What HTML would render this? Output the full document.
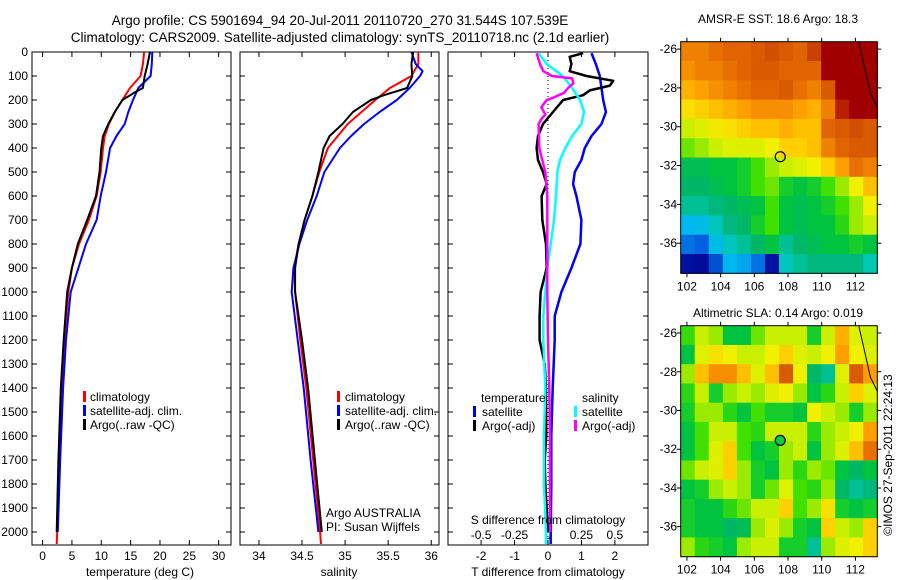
<!DOCTYPE html>
<html><head><meta charset="utf-8"><style>
html,body{margin:0;padding:0;background:#fff;}
svg{display:block;font-family:"Liberation Sans",sans-serif;}
text{font-size:12px;fill:#000;}
</style></head><body>
<svg id="fig" width="900" height="580" viewBox="0 0 900 580" xmlns="http://www.w3.org/2000/svg">
<rect width="900" height="580" fill="#fff"/>
<text x="340" y="25" text-anchor="middle" style="font-size:13.5px">Argo profile: CS 5901694_94 20-Jul-2011 20110720_270 31.544S 107.539E</text>
<text x="340" y="42" text-anchor="middle" style="font-size:13.5px">Climatology: CARS2009. Satellite-adjusted climatology: synTS_20110718.nc (2.1d earlier)</text>
<g id="p1"></g>
<g id="p2"></g>
<g id="p3"></g>
<g id="m1"></g>
<g id="m2"></g>
<text x="140" y="576" text-anchor="middle">temperature (deg C)</text>
<text x="339" y="576" text-anchor="middle">salinity</text>
<text x="548" y="576" text-anchor="middle">T difference from climatology</text>
<text x="548" y="524" text-anchor="middle">S difference from climatology</text>
<text x="326" y="517">Argo AUSTRALIA</text>
<text x="326" y="531">PI: Susan Wijffels</text>
<text x="778" y="23" text-anchor="middle">AMSR-E SST: 18.6 Argo: 18.3</text>
<text x="778" y="317" text-anchor="middle">Altimetric SLA: 0.14 Argo: 0.019</text>
<text transform="translate(892,455) rotate(-90)" text-anchor="middle">©IMOS 27-Sep-2011 22:24:13</text>
</svg>
<script>
// ---------- profile data ----------
const tClimD=[0,50,100,150,200,250,300,350,400,500,600,700,800,900,1000,1200,1400,1700,2000,2050];
const tClim=[17.3,17.1,16.7,14.9,13.6,12.3,11.3,10.6,10.3,9.9,9.2,7.9,6.2,5.0,4.4,3.7,3.2,2.8,2.5,2.4];
const tSatD=[0,50,100,150,200,250,300,350,400,500,600,700,800,900,1000,1200,1400,1700,2000];
const tSat=[18.7,18.6,18.4,16.3,15.4,14.6,14.0,12.6,11.5,10.8,9.9,9.2,7.4,6.1,4.8,4.0,3.5,3.0,2.6];
const tArgoD=[0,50,100,150,170,200,250,300,350,400,500,600,700,800,900,1000,1200,1400,1700,2000];
const tArgo=[18.3,17.9,17.4,17.1,15.6,13.6,12.3,11.2,10.3,10.0,9.7,9.1,7.6,6.0,5.0,4.2,3.6,3.1,2.7,2.4];

const sClimD=[0,50,100,150,200,250,300,400,500,600,700,800,900,1000,1200,1400,1700,2000,2050];
const sClim=[35.85,35.85,35.77,35.52,35.35,35.19,35.03,34.8,34.7,34.62,34.53,34.46,34.41,34.42,34.48,34.55,34.63,34.71,34.72];
const sSatD=[0,50,80,100,150,200,250,300,350,400,500,600,700,800,900,1000,1200,1400,1700,2000];
const sSat=[35.77,35.82,35.9,35.87,35.75,35.6,35.4,35.22,35.07,34.94,34.76,34.67,34.56,34.47,34.4,34.38,34.45,34.52,34.6,34.69];
const sArgoD=[0,50,100,150,180,200,250,300,350,400,500,600,700,800,900,1000,1200,1400,1700,2000];
const sArgo=[35.79,35.77,35.78,35.72,35.45,35.3,35.09,34.97,34.82,34.75,34.69,34.62,34.53,34.46,34.42,34.42,34.5,34.57,34.65,34.73];

const dTSatD=[5,50,100,150,200,250,300,350,400,450,500,550,600,700,800,900,1000,1100,1200,1400,1600,1800,2000,2050];
const dTSat=[1.3,1.43,1.55,1.6,1.65,1.73,1.6,1.3,1.1,1.0,0.8,0.75,0.85,1.0,0.97,0.7,0.4,0.2,0.2,0.14,0.1,0.1,0.08,0.08];
const dTArgoD=[5,20,50,80,100,120,140,160,180,200,250,300,350,400,450,500,550,600,700,800,900,1000,1100,1200,1300,1400,1600,1700,1800,2000];
const dTArgo=[1.05,0.65,0.7,0.65,1.15,1.95,1.85,1.25,1.05,0.45,0.15,-0.15,-0.3,-0.34,-0.3,-0.15,-0.04,-0.19,-0.17,-0.06,-0.04,-0.22,-0.25,-0.25,-0.1,-0.06,-0.05,-0.1,-0.08,0];
const dSSatD=[5,50,100,150,200,250,300,350,400,450,500,600,700,800,900,1000,1100,1200,1400,1600,1800,2000,2050];
const dSSat=[-0.07,-0.01,0.11,0.18,0.24,0.27,0.25,0.18,0.13,0.09,0.07,0.06,0.045,0.02,-0.005,-0.02,-0.035,-0.035,-0.02,-0.03,-0.03,-0.015,-0.015];
const dSArgoD=[5,50,80,100,110,130,150,170,190,200,230,260,280,300,400,500,600,800,1000,1200,1400,1600,1800,2000];
const dSArgo=[-0.085,-0.06,-0.035,0.03,0.18,0.19,0.15,0.12,0.04,-0.01,-0.05,-0.02,-0.05,-0.07,-0.065,-0.02,-0.005,-0.005,-0.005,0.0,0.01,0.015,0.015,0.015];

const depthTicks=[0,100,200,300,400,500,600,700,800,900,1000,1100,1200,1300,1400,1500,1600,1700,1800,1900,2000];
const tTicks=[0,5,10,15,20,25,30];
const sTicks=[34,34.5,35,35.5,36];
const dTTicks=[-2,-1,0,1,2];
const dSTicks=[-0.5,-0.25,0,0.25,0.5];
const dSTickLabels=["-0.5","-0.25","0","0.25","0.5"];

// ---------- map data ----------
const mapLons=[102,104,106,108,110,112];
const mapLats=[-26,-28,-30,-32,-34,-36];
const sstGrid=[
[0.80,0.80,0.82,0.84,0.84,0.86,0.88,0.86,0.84,0.90,1.0,1.0,1.0,1.0],
[0.78,0.80,0.80,0.82,0.84,0.86,0.86,0.84,0.84,0.84,1.0,1.0,1.0,1.0],
[0.74,0.76,0.78,0.80,0.82,0.84,0.84,0.86,0.82,0.80,0.86,1.0,1.0,1.0],
[0.68,0.70,0.72,0.74,0.76,0.78,0.78,0.78,0.76,0.74,0.80,0.95,1.0,1.0],
[0.62,0.64,0.67,0.68,0.70,0.72,0.72,0.74,0.72,0.72,0.84,0.86,0.88,0.86],
[0.58,0.60,0.62,0.64,0.64,0.64,0.66,0.70,0.70,0.72,0.80,0.84,0.86,0.86],
[0.48,0.48,0.50,0.50,0.52,0.56,0.60,0.62,0.64,0.66,0.70,0.76,0.82,0.80],
[0.46,0.46,0.48,0.50,0.52,0.56,0.58,0.52,0.50,0.52,0.56,0.60,0.66,0.72],
[0.42,0.42,0.44,0.46,0.48,0.50,0.56,0.50,0.48,0.50,0.52,0.56,0.60,0.66],
[0.30,0.32,0.38,0.44,0.46,0.52,0.56,0.50,0.48,0.50,0.50,0.54,0.60,0.62],
[0.22,0.20,0.32,0.38,0.42,0.46,0.50,0.42,0.46,0.48,0.50,0.50,0.52,0.50],
[0.10,0.08,0.18,0.30,0.28,0.22,0.10,0.38,0.42,0.44,0.44,0.44,0.44,0.40]];
const slaGrid=[
[0.55,0.62,0.60,0.50,0.50,0.58,0.62,0.62,0.62,0.52,0.62,0.74,0.64,0.62],
[0.50,0.64,0.68,0.66,0.62,0.62,0.66,0.70,0.64,0.62,0.66,0.76,0.66,0.64],
[0.60,0.72,0.78,0.78,0.72,0.64,0.72,0.86,0.66,0.46,0.42,0.64,0.86,0.76],
[0.54,0.62,0.52,0.60,0.62,0.60,0.64,0.66,0.60,0.50,0.54,0.62,0.70,0.64],
[0.52,0.60,0.60,0.54,0.50,0.56,0.52,0.52,0.50,0.66,0.62,0.60,0.52,0.60],
[0.50,0.56,0.62,0.62,0.56,0.54,0.62,0.62,0.62,0.54,0.60,0.62,0.66,0.76],
[0.50,0.56,0.64,0.70,0.56,0.50,0.52,0.60,0.62,0.50,0.60,0.64,0.72,0.82],
[0.58,0.62,0.64,0.70,0.60,0.52,0.50,0.60,0.54,0.60,0.58,0.50,0.46,0.50],
[0.50,0.52,0.60,0.62,0.60,0.52,0.58,0.64,0.56,0.54,0.60,0.46,0.42,0.44],
[0.52,0.50,0.50,0.54,0.58,0.62,0.62,0.70,0.56,0.60,0.68,0.52,0.50,0.52],
[0.52,0.50,0.50,0.46,0.48,0.60,0.64,0.60,0.52,0.50,0.70,0.62,0.60,0.70],
[0.60,0.54,0.52,0.50,0.60,0.62,0.62,0.52,0.52,0.42,0.60,0.64,0.66,0.70]];
const argoLon=107.539, argoLat=-31.544;

const NS="http://www.w3.org/2000/svg";
function mk(parent,tag,attrs){const e=document.createElementNS(NS,tag);for(const k in attrs)e.setAttribute(k,attrs[k]);parent.appendChild(e);return e;}
const yD=d=>52+0.24*d;

function panel(g,x0,x1,xmin,xmax,xt){
  const y0=52,y1=545;
  const sx=v=>x0+(v-xmin)/(xmax-xmin)*(x1-x0);
  const fr=mk(g,'rect',{x:x0,y:y0,width:x1-x0,height:y1-y0,fill:'none',stroke:'#000','stroke-width':1});
  
  
  depthTicks.forEach(d=>{
    const l=mk(g,'path',{d:`M${x0},${yD(d)}h5M${x1},${yD(d)}h-5`,stroke:'#000','stroke-width':1});
    
    
  });
  xt.forEach(v=>{
    const l=mk(g,'path',{d:`M${sx(v)},${y0}v5M${sx(v)},${y1}v-5`,stroke:'#000','stroke-width':1});
    
    
  });
  return sx;
}
function line(g,sx,D,V,color,name,w){
  const pts=D.map((d,i)=>sx(V[i]).toFixed(1)+','+yD(d).toFixed(1)).join(' ');
  const p=mk(g,'polyline',{points:pts,fill:'none',stroke:color,'stroke-width':w||2,'stroke-linejoin':'round'});
  
  
}
function txt(g,x,y,s,anchor,name){
  const t=mk(g,'text',{x:x,y:y,'text-anchor':anchor||'start'});t.textContent=s;
  
  
  return t;
}
function legBar(g,x,y,color){
  const r=mk(g,'rect',{x:x,y:y-10,width:3,height:11,fill:color});
  
  
}

// panel 1
const g1=document.getElementById('p1');
const sx1=panel(g1,32,231,-1.8,32.1,tTicks);
depthTicks.forEach(d=>txt(g1,28,yD(d)+4,String(d),'end','depth-tick-label'));
tTicks.forEach(v=>txt(g1,sx1(v),560,String(v),'middle','temperature-tick-label'));
line(g1,sx1,tClimD,tClim,'#ff0000','temperature-climatology-line');
line(g1,sx1,tSatD,tSat,'#0000ff','temperature-satellite-line');
line(g1,sx1,tArgoD,tArgo,'#000000','temperature-argo-line');
[['#ff0000','climatology',401],['#0000ff','satellite-adj. clim.',415],['#000000','Argo(..raw -QC)',429]].forEach(a=>{legBar(g1,83,a[2],a[0]);txt(g1,90,a[2],a[1],'start','legend-entry');});

// panel 2
const g2=document.getElementById('p2');
const sx2=panel(g2,240,439,33.78,36.09,sTicks);
sTicks.forEach(v=>txt(g2,sx2(v),560,String(v),'middle','salinity-tick-label'));
line(g2,sx2,sClimD,sClim,'#ff0000','salinity-climatology-line');
line(g2,sx2,sSatD,sSat,'#0000ff','salinity-satellite-line');
line(g2,sx2,sArgoD,sArgo,'#000000','salinity-argo-line');
[['#ff0000','climatology',401],['#0000ff','satellite-adj. clim.',415],['#000000','Argo(..raw -QC)',429]].forEach(a=>{legBar(g2,337,a[2],a[0]);txt(g2,345,a[2],a[1],'start','legend-entry');});

// panel 3
const g3=document.getElementById('p3');
const sx3=panel(g3,448,648,-2.99,2.99,dTTicks);
const sxS=v=>sx3(v*4);
dTTicks.forEach(v=>txt(g3,sx3(v),560,String(v),'middle','t-diff-tick-label'));
dSTicks.forEach((v,i)=>txt(g3,sxS(v),539,dSTickLabels[i],'middle','s-diff-tick-label'));
const zl=mk(g3,'line',{x1:sx3(0),y1:52,x2:sx3(0),y2:545,stroke:'#000','stroke-width':1,'stroke-dasharray':'1,3'});


line(g3,sx3,dTSatD,dTSat,'#0000ff','t-diff-satellite-line',2.5);
line(g3,sx3,dTArgoD,dTArgo,'#000000','t-diff-argo-line',2.5);
line(g3,sxS,dSSatD,dSSat,'#00ffff','s-diff-satellite-line',2.5);
line(g3,sxS,dSArgoD,dSArgo,'#ff00ff','s-diff-argo-line',2.5);
txt(g3,481,402,'temperature','start','legend-heading');
txt(g3,582,402,'salinity','start','legend-heading');
legBar(g3,473,416,'#0000ff');txt(g3,482,416,'satellite','start','legend-entry');
legBar(g3,473,430,'#000000');txt(g3,482,430,'Argo(-adj)','start','legend-entry');
legBar(g3,574,416,'#00ffff');txt(g3,582,416,'satellite','start','legend-entry');
legBar(g3,574,430,'#ff00ff');txt(g3,582,430,'Argo(-adj)','start','legend-entry');

// ---------- maps ----------
const stops=[[0,[0,0,128]],[0.1,[0,16,160]],[0.2,[0,96,224]],[0.3,[0,184,240]],[0.4,[0,200,176]],[0.45,[0,180,112]],[0.5,[0,196,64]],[0.56,[64,224,0]],[0.62,[200,240,0]],[0.66,[240,240,0]],[0.7,[255,208,0]],[0.76,[255,160,0]],[0.82,[232,112,0]],[0.88,[208,80,0]],[0.95,[184,32,0]],[1,[160,0,0]]];
function cmap(v){for(let i=1;i<stops.length;i++){if(v<=stops[i][0]){const a=stops[i-1],b=stops[i],t=(v-a[0])/(b[0]-a[0]);const c=a[1].map((x,j)=>Math.round(x+(b[1][j]-x)*t));return `rgb(${c})`;}}return 'rgb(160,0,0)';}
function drawMap(g,y0,y1,grid,filled){
  const x0=680.7,x1=877.3,lon0=101.63,lon1=113.3,lat0=-25.62,lat1=-37.55;
  const sx=l=>x0+(l-lon0)/(lon1-lon0)*(x1-x0);
  const sy=l=>y0+(l-lat0)/(lat1-lat0)*(y1-y0);
  const nr=grid.length,nc=grid[0].length,cw=(x1-x0)/nc,ch=(y1-y0)/nr;
  grid.forEach((row,r)=>row.forEach((v,c)=>{
    const e=mk(g,'rect',{x:(x0+c*cw).toFixed(2),y:(y0+r*ch).toFixed(2),width:(cw+0.5).toFixed(2),height:(ch+0.5).toFixed(2),fill:cmap(v)});
    
    
  }));
  const co=mk(g,'polyline',{points:`${sx(112.2)},${y0} ${sx(112.9)},${sy(-28.3)} ${sx(113.3)},${sy(-29.0)}`,fill:'none',stroke:'#000','stroke-width':1});
  
  
  const fr=mk(g,'rect',{x:x0,y:y0,width:x1-x0,height:y1-y0,fill:'none',stroke:'#000','stroke-width':1});
  
  
  mapLons.forEach(l=>{
    const t=mk(g,'path',{d:`M${sx(l)},${y0}v-4M${sx(l)},${y1}v4`,stroke:'#000'});
    
    
    txt(g,sx(l),y1+17,String(l),'middle','lon-tick-label');
  });
  mapLats.forEach(l=>{
    const t=mk(g,'path',{d:`M${x0},${sy(l)}h-4M${x1},${sy(l)}h4`,stroke:'#000'});
    
    
    txt(g,677,sy(l)+4,String(l),'end','lat-tick-label');
  });
  const m=mk(g,'circle',{cx:sx(argoLon),cy:sy(argoLat),r:5,fill:filled?'#00d040':'none',stroke:'#000','stroke-width':1.2});
  
  
}
drawMap(document.getElementById('m1'),41.7,273.3,sstGrid,false);
drawMap(document.getElementById('m2'),325.7,556.7,slaGrid,true);
</script>
</body></html>
